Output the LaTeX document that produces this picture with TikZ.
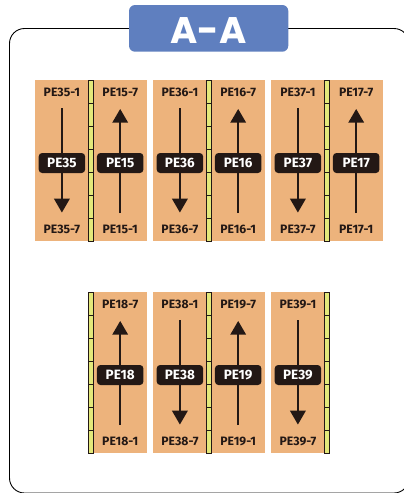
\documentclass[tikz,border=0pt]{standalone}
\usepackage{fontspec}
\setmainfont{Fira Sans}
\newfontfamily\titlefont{Poppins}
\definecolor{panel}{HTML}{EDB37C}
\definecolor{rail}{HTML}{E3E87A}
\definecolor{dark}{HTML}{231815}
\definecolor{tabfill}{HTML}{5F7FBF}
\tikzset{
 x=1pt,y=-1pt,
 panelbox/.style={fill=panel,draw=none},
 railbox/.style={fill=rail,draw=dark,line width=.9pt},
 railtick/.style={draw=dark,line width=.9pt},
 flow/.style={draw=dark,line width=1.7pt},
 tiplabel/.style={text=dark,font=\fontsize{12.2}{14}\selectfont\bfseries,inner sep=0pt,anchor=center},
 tag/.style={fill=dark,text=white,rounded corners=3.5pt,minimum width=46.5pt,minimum height=20pt,inner sep=0pt,font=\fontsize{13.5}{15}\selectfont\bfseries,anchor=center},
 head/.style={fill=dark,draw=none},
}
\newcommand{\downcol}[5]{%
 \fill[panelbox] (#4,#3+80) rectangle (#5,#3+241);
 \coordinate (s#1) at (#2,#3+108);
 \coordinate (e#1) at (#2,#3+199);
 \draw[flow] (s#1) -- (e#1);
 \fill[head] (#2-8,#3+198.7) -- (#2+8,#3+198.7) -- (#2,#3+212.5) -- cycle;
 \node[tiplabel] (t#1) at (#2,#3+92.3) {PE#1-1};
 \node[tiplabel] (b#1) at (#2,#3+229) {PE#1-7};
 \node[tag] (n#1) at (#2,#3+163) {PE#1};
}
\newcommand{\upcol}[5]{%
 \fill[panelbox] (#4,#3+80) rectangle (#5,#3+241);
 \coordinate (s#1) at (#2,#3+213);
 \coordinate (e#1) at (#2,#3+122);
 \draw[flow] (s#1) -- (e#1);
 \fill[head] (#2-8,#3+122.7) -- (#2+8,#3+122.7) -- (#2,#3+109) -- cycle;
 \node[tiplabel] (t#1) at (#2,#3+92.3) {PE#1-7};
 \node[tiplabel] (b#1) at (#2,#3+229) {PE#1-1};
 \node[tag] (n#1) at (#2,#3+163) {PE#1};
}
\newcommand{\railbar}[2]{%
 \draw[railbox] (#1-2.6,#2+80) rectangle (#1+2.6,#2+241);
 \foreach \k in {1,...,6} \draw[railtick] (#1-2.6,#2+80+\k*23) -- (#1+2.6,#2+80+\k*23);
}
\begin{document}
\begin{tikzpicture}
\useasboundingbox (0,0) rectangle (404,493);
\begin{scope}
\clip (0,0) rectangle (404,493);
\draw[line width=.9pt,black,rounded corners=15pt] (129,28.5) -- (9.5,28.5) -- (9.5,493) -- (409,493) -- (409,28.5) -- (288,28.5);
\end{scope}
\fill[tabfill,rounded corners=6pt] (129,5) rectangle (288.3,51.7);
\node[text=white,font=\titlefont\fontsize{37}{41}\selectfont\bfseries,inner sep=0pt] (title) at (208.5,31) {A-A};
\downcol{35}{61.9}{0}{35}{88}
\upcol{15}{120.2}{0}{94}{147}
\downcol{36}{179.9}{0}{153}{206}
\upcol{16}{238.2}{0}{212}{265}
\downcol{37}{297.9}{0}{271}{324}
\upcol{17}{356.2}{0}{330}{383}
\railbar{91}{0}
\railbar{209}{0}
\railbar{327}{0}
\upcol{18}{120.2}{212}{94}{147}
\downcol{38}{179.9}{212}{153}{206}
\upcol{19}{238.2}{212}{212}{265}
\downcol{39}{297.9}{212}{271}{324}
\railbar{91}{212}
\railbar{209}{212}
\railbar{327}{212}
\end{tikzpicture}
\end{document}
